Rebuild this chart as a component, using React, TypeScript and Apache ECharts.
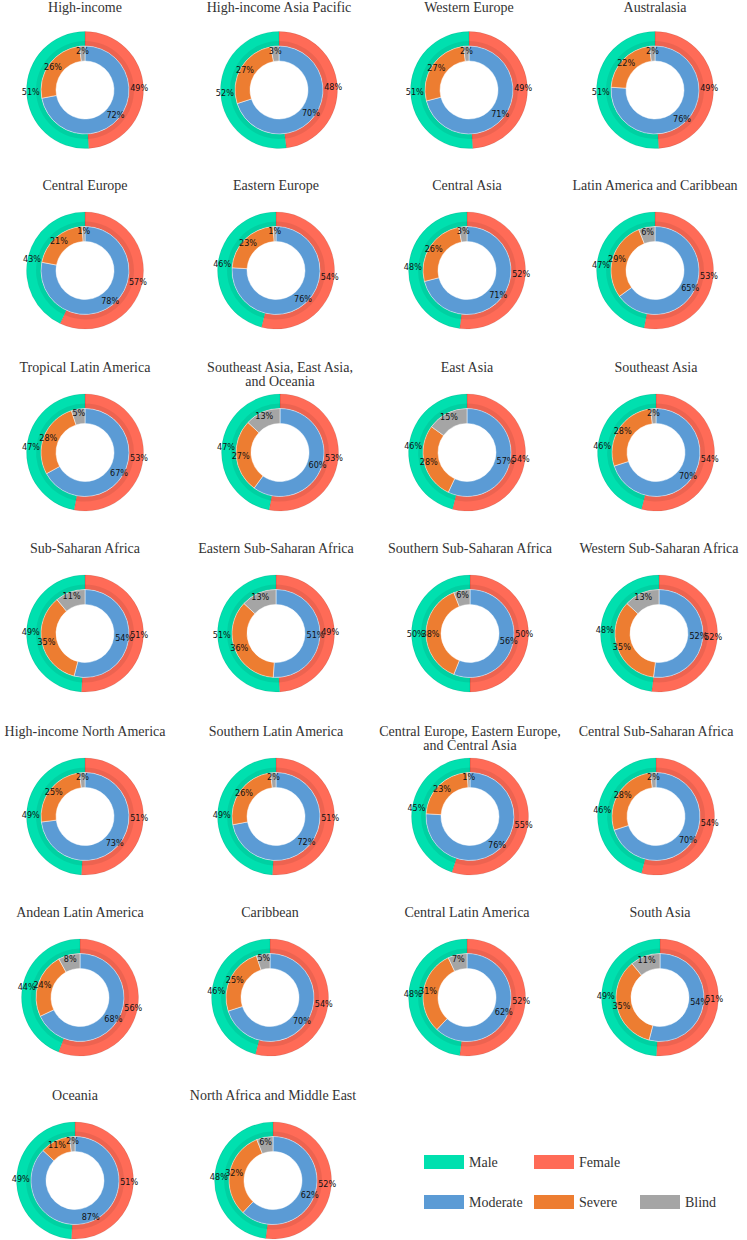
import React, { useEffect, useRef } from "react";
import * as echarts from "echarts";

const REGIONS = [
  "High-income",
  "High-income Asia Pacific",
  "Western Europe",
  "Australasia",
  "Central Europe",
  "Eastern Europe",
  "Central Asia",
  "Latin America and Caribbean",
  "Tropical Latin America",
  "Southeast Asia, East Asia,\nand Oceania",
  "East Asia",
  "Southeast Asia",
  "Sub-Saharan Africa",
  "Eastern Sub-Saharan Africa",
  "Southern Sub-Saharan Africa",
  "Western Sub-Saharan Africa",
  "High-income North America",
  "Southern Latin America",
  "Central Europe, Eastern Europe,\nand Central Asia",
  "Central Sub-Saharan Africa",
  "Andean Latin America",
  "Caribbean",
  "Central Latin America",
  "South Asia",
  "Oceania",
  "North Africa and Middle East",
];

const MALE = [51, 52, 51, 51, 43, 46, 48, 47, 47, 47, 46, 46, 49, 51, 50, 48, 49, 49, 45, 46, 44, 46, 48, 49, 49, 48];
const FEMALE = [49, 48, 49, 49, 57, 54, 52, 53, 53, 53, 54, 54, 51, 49, 50, 52, 51, 51, 55, 54, 56, 54, 52, 51, 51, 52];
const MODERATE = [72, 70, 71, 76, 78, 76, 71, 65, 67, 60, 57, 70, 54, 51, 56, 52, 73, 72, 76, 70, 68, 70, 62, 54, 87, 62];
const SEVERE = [26, 27, 27, 22, 21, 23, 26, 29, 28, 27, 28, 28, 35, 36, 38, 35, 25, 26, 23, 28, 24, 25, 31, 35, 11, 32];
const BLIND = [2, 3, 2, 2, 1, 1, 3, 6, 5, 13, 15, 2, 11, 13, 6, 13, 2, 2, 1, 2, 8, 5, 7, 11, 2, 6];

const SEX_NAMES = ["Male", "Female"];
const SEVERITY_NAMES = ["Moderate", "Severe", "Blind"];

// layout (pixel positions of each donut)
const CENTER_X = [
  85, 279, 469, 655,
  85, 276, 467, 655,
  85, 280, 467, 656,
  85, 276, 470, 659,
  85, 276, 470, 656,
  80, 270, 467, 660,
  75, 273,
];
const ROW_Y = [90, 270.5, 452.5, 633.5, 816.5, 997.5, 1180.5];

const R_IN = 29;
const R_MID = 44;
const R_BAND = 49;
const R_OUT = 58.5;

const COLORS: Record<string, string> = {
  Male: "#00E0AF",
  Female: "#FF6B57",
  Moderate: "#5B9BD5",
  Severe: "#ED7D31",
  Blind: "#A5A5A5",
};

const LEGEND_POS: Record<string, [number, number]> = {
  Male: [424, 1155],
  Female: [534, 1155],
  Moderate: [424, 1195],
  Severe: [534, 1195],
  Blind: [640, 1195],
};

const LABEL_FONT = '"Liberation Sans Narrow", "DejaVu Sans Condensed", "Liberation Sans", sans-serif';
const SERIF = '"Liberation Serif", "Times New Roman", serif';

export default function App() {
  const ref = useRef<HTMLDivElement>(null);

  useEffect(() => {
    if (!ref.current) return;
    const chart = echarts.init(ref.current, null, { renderer: "svg" });
    const series: any[] = [];
    const graphics: any[] = [];

    const labelStyle = {
      show: true,
      position: "inside",
      formatter: "{c}%",
      color: "#111",
      fontSize: 9,
      fontFamily: LABEL_FONT,
      overflow: "none",
    };

    REGIONS.forEach((name, i) => {
      const cx = CENTER_X[i];
      const cy = ROW_Y[Math.floor(i / 4)];
      const center = [cx, cy];
      const common = {
        type: "pie",
        center,
        startAngle: 90,
        clockwise: true,
        animation: false,
        avoidLabelOverlap: false,
        labelLayout: { hideOverlap: false },
        labelLine: { show: false },
        emphasis: { disabled: true },
      };
      // outer ring: sex
      series.push({
        ...common,
        z: 2,
        radius: [R_MID, R_OUT],
        silent: true,
        label: { show: false },
        itemStyle: { borderColor: "rgba(0,0,0,0.08)", borderWidth: 1 },
        data: [
          { name: "Female", value: FEMALE[i], itemStyle: { color: COLORS.Female } },
          { name: "Male", value: MALE[i], itemStyle: { color: COLORS.Male } },
        ],
      });
      // darker inner band of the outer ring
      series.push({
        ...common,
        z: 3,
        radius: [R_MID, R_BAND],
        silent: true,
        label: { show: false },
        data: [
          { name: "Female band", value: FEMALE[i], itemStyle: { color: "rgba(0,0,0,0.07)" } },
          { name: "Male band", value: MALE[i], itemStyle: { color: "rgba(0,0,0,0.07)" } },
        ],
      });
      // inner ring: severity
      series.push({
        ...common,
        z: 4,
        radius: [R_IN, R_MID],
        silent: true,
        itemStyle: { borderColor: "rgba(255,255,255,0.6)", borderWidth: 0.8 },
        label: labelStyle,
        data: [
          { name: "Moderate", value: MODERATE[i], itemStyle: { color: COLORS.Moderate } },
          { name: "Severe", value: SEVERE[i], itemStyle: { color: COLORS.Severe } },
          { name: "Blind", value: BLIND[i], itemStyle: { color: COLORS.Blind } },
        ],
      });
      // outer ring labels
      series.push({
        ...common,
        z: 6,
        radius: [R_MID, R_OUT],
        silent: true,
        itemStyle: { color: "rgba(0,0,0,0)" },
        label: labelStyle,
        data: [
          { name: "Female label", value: FEMALE[i] },
          { name: "Male label", value: MALE[i] },
        ],
      });
      const lines = name.split("\n");
      const titleY = Math.max(cy - 85, 7);
      lines.forEach((line, k) => {
        graphics.push({
          type: "text",
          x: cx,
          y: titleY + k * 14,
          silent: true,
          style: {
            text: line,
            fill: "#333",
            font: `14px ${SERIF}`,
            align: "center",
            textAlign: "center",
            verticalAlign: "middle",
            textVerticalAlign: "middle",
          },
        });
      });
    });

    const legends = [...SEX_NAMES, ...SEVERITY_NAMES].map((nm) => ({
      data: [nm],
      left: LEGEND_POS[nm][0],
      top: LEGEND_POS[nm][1],
      orient: "horizontal",
      icon: "rect",
      itemWidth: 40,
      itemHeight: 14,
      itemGap: 0,
      padding: 0,
      selectedMode: false,
      itemStyle: { borderWidth: 0 },
      textStyle: { fontFamily: SERIF, fontSize: 14, color: "#333" },
    }));

    chart.setOption({
      animation: false,
      backgroundColor: "#fff",
      legend: legends,
      series,
      graphic: graphics,
    });

    return () => chart.dispose();
  }, []);

  return (
    <div
      ref={ref}
      style={{ position: "absolute", left: 0, top: 0, width: 747, height: 1240, background: "#fff" }}
    />
  );
}
